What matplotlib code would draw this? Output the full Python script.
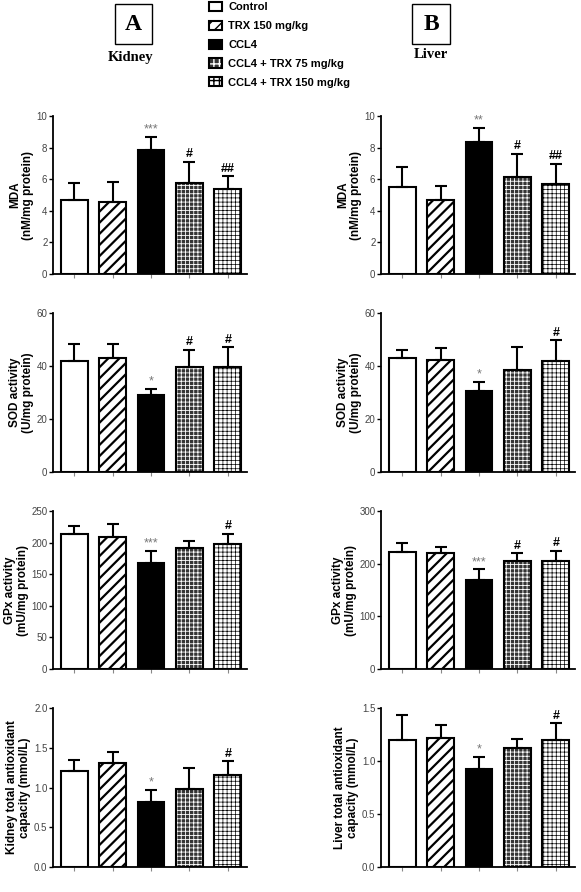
import numpy as np
import matplotlib.pyplot as plt
from matplotlib.patches import Rectangle, Patch
from matplotlib.legend_handler import HandlerTuple

plt.rcParams['font.family'] = ['Liberation Sans', 'DejaVu Sans']

groups = ['Control', 'TRX 150 mg/kg', 'CCL4', 'CCL4 + TRX 75 mg/kg', 'CCL4 + TRX 150 mg/kg']

# Kidney (column A)
kid_mda = [4.68, 4.56, 7.84, 5.78, 5.38]
kid_mda_err = [1.06, 1.26, 0.84, 1.32, 0.82]
kid_mda_sig = ['', '', '***', '#', '##']
kid_sod = [41.7, 43.1, 29.2, 39.5, 39.5]
kid_sod_err = [6.5, 5.1, 2.0, 6.6, 7.6]
kid_sod_sig = ['', '', '*', '#', '#']
kid_gpx = [214, 209, 167, 192, 197.5]
kid_gpx_err = [13, 20.5, 20, 11, 16.5]
kid_gpx_sig = ['', '', '***', '', '#']
kid_tac = [1.21, 1.31, 0.82, 0.985, 1.16]
kid_tac_err = [0.13, 0.14, 0.15, 0.26, 0.17]
kid_tac_sig = ['', '', '*', '', '#']

# Liver (column B)
liv_mda = [5.5, 4.71, 8.35, 6.13, 5.71]
liv_mda_err = [1.27, 0.83, 0.91, 1.48, 1.27]
liv_mda_sig = ['', '', '**', '#', '##']
liv_sod = [43.1, 42.3, 30.7, 38.6, 42.0]
liv_sod_err = [3.1, 4.4, 3.4, 8.4, 7.7]
liv_sod_sig = ['', '', '*', '', '#']
liv_gpx = [221.6, 219.7, 168.9, 205.9, 204.6]
liv_gpx_err = [18.2, 12.3, 20.1, 13.8, 20.1]
liv_gpx_sig = ['', '', '***', '#', '#']
liv_tac = [1.20, 1.216, 0.925, 1.12, 1.20]
liv_tac_err = [0.23, 0.124, 0.115, 0.086, 0.155]
liv_tac_sig = ['', '', '*', '', '#']

# bar looks: face, hatch colour, hatch, hatch linewidth
styles = [
    ('white', 'black', '', 1.0),
    ('white', 'black', '///', 1.6),
    ('black', 'black', '', 1.0),
    ('#353535', 'white', '++++', 0.6),
    ('white', 'black', '++++', 0.5),
]

fig = plt.figure(figsize=(5.81, 8.92), dpi=100)
W, H = 581, 892


def make_ax(x0, x1, y0, y1):
    return fig.add_axes([x0 / W, 1 - y1 / H, (x1 - x0) / W, (y1 - y0) / H])


def panel(ax, vals, errs, sig, ymax, ticks, ylabel, fmt):
    x = np.arange(len(vals))
    for i, (fc, hc, hatch, hlw) in enumerate(styles):
        with plt.rc_context({'hatch.linewidth': hlw}):
            ax.bar(x[i], vals[i], width=0.7, color=fc, edgecolor=hc,
                   hatch=hatch, linewidth=0, zorder=2)
        ax.bar(x[i], vals[i], width=0.7, fill=False, edgecolor='black',
               linewidth=1.5, zorder=3)
    ax.errorbar(x, vals, yerr=[np.zeros(len(vals)), errs], fmt='none',
                ecolor='black', elinewidth=1.5, capsize=4, capthick=1.5, zorder=4)
    for i, s in enumerate(sig):
        if not s:
            continue
        col = '#777777' if '*' in s else 'black'
        ax.annotate(s, (x[i], vals[i] + errs[i]), xytext=(0, 1),
                    textcoords='offset points', ha='center', va='bottom',
                    fontsize=9, color=col, fontweight='bold' if '#' in s else 'normal')
    ax.set_xlim(-0.55, 4.5)
    ax.set_ylim(0, ymax)
    ax.set_yticks(ticks)
    ax.set_yticklabels([fmt.format(t) for t in ticks])
    ax.set_xticks(x)
    ax.set_xticklabels([])
    for sp in ['top', 'right']:
        ax.spines[sp].set_visible(False)
    for sp in ['left', 'bottom']:
        ax.spines[sp].set_linewidth(1.3)
    ax.tick_params(axis='y', length=3, width=1, labelsize=7, labelcolor='#444444', pad=1)
    ax.tick_params(axis='x', length=3, width=0.8, color='#888888')
    ax.set_ylabel(ylabel, fontsize=8.5, fontweight='bold', labelpad=2, linespacing=1.1)


rows = [(116, 274), (313, 472), (511, 669), (708, 867)]
left_x = (53, 247)
right_x = (381, 575)

ax = make_ax(*left_x, *rows[0])
panel(ax, kid_mda, kid_mda_err, kid_mda_sig, 10, [0, 2, 4, 6, 8, 10],
      'MDA\n(nM/mg protein)', '{:g}')
ax = make_ax(*left_x, *rows[1])
panel(ax, kid_sod, kid_sod_err, kid_sod_sig, 60, [0, 20, 40, 60],
      'SOD activity\n(U/mg protein)', '{:g}')
ax = make_ax(*left_x, *rows[2])
panel(ax, kid_gpx, kid_gpx_err, kid_gpx_sig, 250, [0, 50, 100, 150, 200, 250],
      'GPx activity\n(mU/mg protein)', '{:g}')
ax = make_ax(*left_x, *rows[3])
panel(ax, kid_tac, kid_tac_err, kid_tac_sig, 2.0, [0, 0.5, 1.0, 1.5, 2.0],
      'Kidney total antioxidant\ncapacity (mmol/L)', '{:.1f}')

ax = make_ax(*right_x, *rows[0])
panel(ax, liv_mda, liv_mda_err, liv_mda_sig, 10, [0, 2, 4, 6, 8, 10],
      'MDA\n(nM/mg protein)', '{:g}')
ax = make_ax(*right_x, *rows[1])
panel(ax, liv_sod, liv_sod_err, liv_sod_sig, 60, [0, 20, 40, 60],
      'SOD activity\n(U/mg protein)', '{:g}')
ax = make_ax(*right_x, *rows[2])
panel(ax, liv_gpx, liv_gpx_err, liv_gpx_sig, 300, [0, 100, 200, 300],
      'GPx activity\n(mU/mg protein)', '{:g}')
ax = make_ax(*right_x, *rows[3])
panel(ax, liv_tac, liv_tac_err, liv_tac_sig, 1.5, [0, 0.5, 1.0, 1.5],
      'Liver total antioxidant\ncapacity (mmol/L)', '{:.1f}')

# legend at the top
handles = []
for (fc, hc, hatch, hlw) in styles:
    with plt.rc_context({'hatch.linewidth': min(hlw, 0.8)}):
        f = Patch(facecolor=fc, edgecolor=hc, hatch=hatch.replace('++++', '+++'), linewidth=0)
    o = Patch(fill=False, edgecolor='black', linewidth=1.5)
    handles.append((f, o))
fig.legend(handles, groups, loc='upper left', bbox_to_anchor=(209 / W, 1 - 2 / H),
           frameon=False, handler_map={tuple: HandlerTuple(ndivide=1, pad=0)},
           handlelength=1.2, handleheight=0.9, handletextpad=0.55,
           labelspacing=0.75, borderpad=0, borderaxespad=0,
           prop={'weight': 'bold', 'size': 8})

# panel letters
serif = ['Liberation Serif', 'DejaVu Serif']
for (bx0, bx1, cx, name, ny) in [(115, 152, 131, 'Kidney', 58), (412, 450, 431, 'Liver', 55)]:
    fig.patches.append(Rectangle((bx0 / W, 1 - 44 / H), (bx1 - bx0) / W, 40 / H,
                                 transform=fig.transFigure, fill=False,
                                 edgecolor='black', linewidth=1))
    fig.text((bx0 + bx1) / 2 / W, 1 - 24 / H, 'A' if name == 'Kidney' else 'B',
             ha='center', va='center', fontsize=17, fontweight='bold', family=serif)
    fig.text(cx / W, 1 - ny / H, name, ha='center', va='center',
             fontsize=10.5, fontweight='bold', family=serif)

fig.savefig('out.png', dpi=100)
